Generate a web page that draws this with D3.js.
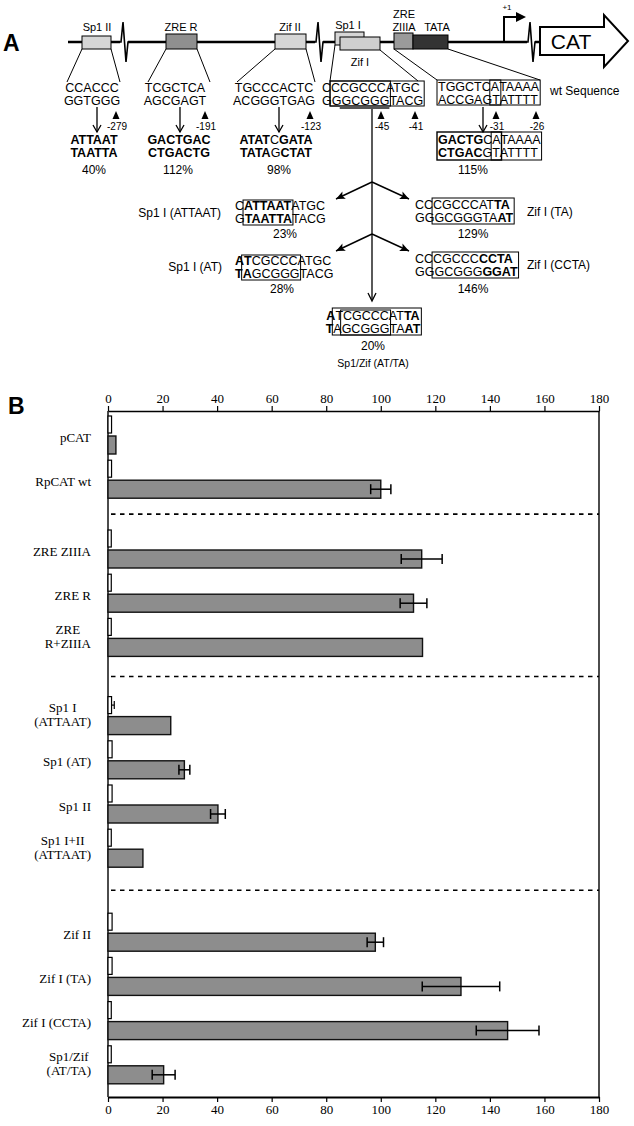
<!DOCTYPE html>
<html>
<head>
<meta charset="utf-8">
<script src="https://cdn.jsdelivr.net/npm/d3@7"></script>
<style>
  body { margin: 0; background: #fff; }
  svg { display: block; }
</style>
</head>
<body>
<svg id="fig" width="634" height="1126"></svg>
<script>
// ---------- Panel B data (CAT activity, % of RpCAT wt) ----------
const rowLabels = [
  ["pCAT"], ["RpCAT wt"],
  ["ZRE ZIIIA"], ["ZRE R"], ["ZRE", "R+ZIIIA"],
  ["Sp1 I", "(ATTAAT)"], ["Sp1 (AT)"], ["Sp1 II"], ["Sp1 I+II", "(ATTAAT)"],
  ["Zif II"], ["Zif I (TA)"], ["Zif I (CCTA)"], ["Sp1/Zif", "(AT/TA)"]
];
const rowGroup = [0, 0, 1, 1, 1, 2, 2, 2, 2, 3, 3, 3, 3];
const activity = [2.9, 100, 115, 112, 115.3, 23, 28, 40.3, 12.8, 98, 129.4, 146.5, 20.4];
const activityErr = [0, 3.7, 7.5, 4.9, 0, 0, 2, 2.7, 0, 3, 14.2, 11.5, 4.2];
const controlVals = [1.3, 1.3, 1.2, 1.2, 1.2, 1.3, 1.5, 1.5, 1.2, 1.5, 1.5, 1.2, 1.2];
const controlErr = [0, 0, 0, 0, 0, 1, 0, 0, 0, 0, 0, 0, 0];
const xTicks = [0, 20, 40, 60, 80, 100, 120, 140, 160, 180];

// ---------- Panel A sequences ([text, bold]) ----------
const wtSp1II = [[["CCACCC"]], [["GGTGGG"]]];
const wtZreR = [[["TCGCTCA"]], [["AGCGAGT"]]];
const wtZifII = [[["TGCCCACTC"]], [["ACGGGTGAG"]]];
const wtSp1I = [[["C"], ["CCGCCC"], ["ATGC"]], [["G"], ["GGCGGG"], ["TACG"]]];
const wtZiiia = [[["TGGCTC"], ["A"], ["TAAAA"]], [["ACCGAG"], ["T"], ["ATTTT"]]];
const mutSp1II = [[["ATTAAT", 1]], [["TAATTA", 1]]];
const mutZreR = [[["GACTGAC", 1]], [["CTGACTG", 1]]];
const mutZifII = [[["ATAT", 1], ["C"], ["GATA", 1]], [["TATA", 1], ["G"], ["CTAT", 1]]];
const mutZiiia = [[["GACTG", 1], ["C"], ["A"], ["TAAAA"]], [["CTGAC", 1], ["G"], ["T"], ["ATTTT"]]];
const mutAttaat = [[["C"], ["ATTAAT", 1], ["ATGC"]], [["G"], ["TAATTA", 1], ["TACG"]]];
const mutAt = [[["A", 1], ["T", 1], ["CGCCC"], ["ATGC"]], [["T", 1], ["A", 1], ["GCGGG"], ["TACG"]]];
const mutTa = [[["CC"], ["CGCCCAT"], ["TA", 1]], [["GG"], ["GCGGGTA"], ["AT", 1]]];
const mutCcta = [[["CC"], ["CGCCC"], ["CCTA", 1]], [["GG"], ["GCGGG"], ["GGAT", 1]]];
const mutSp1Zif = [[["A", 1], ["T"], ["CGCCC"], ["AT"], ["TA", 1]], [["T", 1], ["A"], ["GCGGG"], ["TA"], ["AT", 1]]];
const sitePercent = ["40%", "112%", "98%", "115%", "23%", "129%", "28%", "146%", "20%"];
const siteMarks = ["-279", "-191", "-123", "-45", "-41", "-31", "-26"];

const sans = "'Liberation Sans', Arial, Helvetica, sans-serif";
const serif = "'Liberation Serif', 'Times New Roman', serif";
const svg = d3.select("#fig");

// ================= Panel A =================
const A = svg.append("g");
A.append("text").attr("x", 3).attr("y", 51).attr("font-family", sans)
  .attr("font-size", 23).attr("font-weight", "bold").text("A");

// promoter line
A.append("line").attr("x1", 68).attr("x2", 540).attr("y1", 42).attr("y2", 42)
  .attr("stroke", "#000").attr("stroke-width", 2.5);

// breaks in the line
[124, 319, 531].forEach(bx => {
  A.append("rect").attr("x", bx - 4).attr("y", 39).attr("width", 8).attr("height", 6).attr("fill", "#fff");
  A.append("path")
    .attr("d", `M${bx - 6},42 L${bx - 3},42 L${bx - 1},22 L${bx + 2},62 L${bx + 4},42 L${bx + 6},42`)
    .attr("fill", "none").attr("stroke", "#000").attr("stroke-width", 1.6).attr("stroke-linejoin", "miter");
});

function box(g, x0, y0, x1, y1, fill, sw) {
  return g.append("rect").attr("x", x0).attr("y", y0).attr("width", x1 - x0).attr("height", y1 - y0)
    .attr("fill", fill || "none").attr("stroke", "#000").attr("stroke-width", sw || 1);
}
function label(g, x, y, txt, size, anchor, weight) {
  return g.append("text").attr("x", x).attr("y", y).attr("font-family", sans)
    .attr("font-size", size).attr("text-anchor", anchor || "middle")
    .attr("font-weight", weight || "normal").text(txt);
}

// promoter elements
box(A, 82, 36, 111, 49, "#d6d6d6");
box(A, 166, 34, 197, 49, "#8f8f8f");
box(A, 275, 34, 306, 49, "#d6d6d6");
box(A, 335, 32, 364, 45, "#d6d6d6");
box(A, 340, 37, 380, 50, "#cfcfcf");
box(A, 394, 33, 413, 49, "#9a9a9a");
box(A, 413, 35, 448, 49, "#333");
label(A, 97, 31, "Sp1 II", 11);
label(A, 181, 31, "ZRE R", 11);
label(A, 290, 31, "Zif II", 11);
label(A, 348, 29, "Sp1 I", 11);
label(A, 404, 18, "ZRE", 11);
label(A, 404, 31, "ZIIIA", 11);
label(A, 437, 31, "TATA", 11);
label(A, 360, 66, "Zif I", 11);

// +1 bent arrow and CAT reporter
A.append("path").attr("d", "M504,42 V17 H517").attr("fill", "none").attr("stroke", "#000").attr("stroke-width", 2);
A.append("path").attr("d", "M516,12 L526,17 L516,22 Z").attr("fill", "#000");
label(A, 507, 10, "+1", 8);
A.append("path").attr("d", "M540,27 L604,27 L604,15 L628,41 L604,67 L604,55 L540,55 Z")
  .attr("fill", "#fff").attr("stroke", "#000").attr("stroke-width", 2).attr("stroke-linejoin", "miter");
label(A, 571, 49, "CAT", 21);

// connector lines from elements to sequences
[[82, 49, 67, 82], [111, 49, 120, 82], [166, 49, 148, 82], [197, 49, 210, 82],
 [275, 49, 237, 82], [306, 49, 315, 82], [335, 45, 330, 81], [380, 50, 418, 81],
 [394, 49, 437, 80], [448, 49, 540, 80]]
  .forEach(l => A.append("line").attr("x1", l[0]).attr("y1", l[1]).attr("x2", l[2]).attr("y2", l[3])
    .attr("stroke", "#000").attr("stroke-width", 1));

// write a row of segments, returns extents of each segment
function seqRow(g, x, y, segs, size, anchor) {
  const nodes = segs.map(s => g.append("text").attr("y", y).attr("font-family", sans)
    .attr("font-size", size).attr("font-weight", s[1] ? "bold" : "normal").text(s[0]));
  const w = nodes.map(n => n.node().getComputedTextLength());
  const total = d3.sum(w);
  let cx = anchor === "middle" ? x - total / 2 : anchor === "end" ? x - total : x;
  return nodes.map((n, i) => { n.attr("x", cx); const e = [cx, cx + w[i]]; cx += w[i]; return e; });
}
function seqBlock(g, x, y, seq, anchor, size, gap) {
  const sz = size || 12.5;
  const r1 = seqRow(g, x, y, seq[0], sz, anchor);
  const r2 = seqRow(g, x, y + (gap || 12.5), seq[1], sz, anchor);
  return [r1, r2];
}
function segBox(g, ext, i0, i1, y0, y1, sw) {
  const x0 = Math.min(ext[0][i0][0], ext[1][i0][0]) - 1;
  const x1 = Math.max(ext[0][i1][1], ext[1][i1][1]) + 1;
  return box(g, x0, y0, x1, y1, "none", sw || 1);
}

// wild-type row
seqBlock(A, 92, 92, wtSp1II, "middle", 12.5, 13);
seqBlock(A, 175, 92, wtZreR, "middle", 12.5, 13);
seqBlock(A, 274, 92, wtZifII, "middle", 12.5, 13);
const eSp1I = seqBlock(A, 322, 92, wtSp1I, "start", 12.5, 13);
segBox(A, eSp1I, 1, 1, 81, 106);
segBox(A, eSp1I, 1, 2, 81, 106);
A.append("rect").attr("x", eSp1I[1][1][0] + 8).attr("y", 106).attr("width", eSp1I[1][1][1] - eSp1I[1][1][0] - 8)
  .attr("height", 3).attr("fill", "#555");
const eZw = seqBlock(A, 438, 91, wtZiiia, "start", 12.5, 13);
segBox(A, eZw, 0, 1, 80, 105);
segBox(A, eZw, 1, 2, 80, 105);
label(A, 550, 95, "wt Sequence", 12, "start");

// site markers
[116, 205, 310, 381, 415, 496, 536].forEach((tx, i) => {
  A.append("path").attr("d", `M${tx - 3.5},119 L${tx},111 L${tx + 3.5},119 Z`).attr("fill", "#000");
  label(A, tx + 1, 130, siteMarks[i], 10);
});

// open down arrows
function downArrow(g, ax, y0, y1) {
  g.append("line").attr("x1", ax).attr("x2", ax).attr("y1", y0).attr("y2", y1).attr("stroke", "#000").attr("stroke-width", 1.3);
  g.append("path").attr("d", `M${ax - 4},${y1 - 7} L${ax},${y1} L${ax + 4},${y1 - 7}`)
    .attr("fill", "none").attr("stroke", "#000").attr("stroke-width", 1.3);
}
[97, 180, 279, 483].forEach(ax => downArrow(A, ax, 107, 132));

// mutant row
seqBlock(A, 94, 143.5, mutSp1II, "middle", 12.5, 13.5);
seqBlock(A, 179, 143.5, mutZreR, "middle", 12.5, 13.5);
seqBlock(A, 276, 143.5, mutZifII, "middle", 12.5, 13.5);
const eZm = seqBlock(A, 438, 143.5, mutZiiia, "start", 12.5, 13.5);
segBox(A, eZm, 0, 2, 132, 160, 1.4);
segBox(A, eZm, 2, 3, 132, 160);
[[94, 0], [178, 1], [279, 2], [473, 3]].forEach(p => label(A, p[0], 174, sitePercent[p[1]], 12));

// branching arrows from Sp1 I / Zif I
A.append("line").attr("x1", 372).attr("x2", 372).attr("y1", 109).attr("y2", 300)
  .attr("stroke", "#000").attr("stroke-width", 1.3);
A.append("path").attr("d", "M368,293 L372,301 L376,293").attr("fill", "none").attr("stroke", "#000").attr("stroke-width", 1.3);
function branch(g, y) {
  [[336, y + 17], [409, y + 17]].forEach(t => {
    g.append("line").attr("x1", 372).attr("y1", y).attr("x2", t[0]).attr("y2", t[1])
      .attr("stroke", "#000").attr("stroke-width", 1.4);
    const ang = Math.atan2(t[1] - y, t[0] - 372);
    const L = 9, W = 4;
    const bx = t[0] - L * Math.cos(ang), by = t[1] - L * Math.sin(ang);
    const px = -Math.sin(ang) * W, py = Math.cos(ang) * W;
    g.append("path").attr("d", `M${t[0]},${t[1]} L${bx + px},${by + py} L${bx + 2 * Math.cos(ang)},${by + 2 * Math.sin(ang)} L${bx - px},${by - py} Z`)
      .attr("fill", "#000");
  });
}
branch(A, 182);
branch(A, 234);

const eAttaat = seqBlock(A, 235, 210, mutAttaat, "start");
segBox(A, eAttaat, 1, 1, 200, 225);
label(A, 221, 217, "Sp1 I (ATTAAT)", 12, "end");
label(A, 285, 238, sitePercent[4], 12);

const eTa = seqBlock(A, 415, 209, mutTa, "start");
segBox(A, eTa, 1, 2, 198, 224);
label(A, 527, 216, "Zif I (TA)", 12, "start");
label(A, 473, 238, sitePercent[5], 12);

const eAt = seqBlock(A, 235, 265, mutAt, "start");
segBox(A, eAt, 1, 2, 255, 280);
label(A, 222, 271, "Sp1 I (AT)", 12, "end");
label(A, 282, 293, sitePercent[6], 12);

const eCc = seqBlock(A, 415, 263, mutCcta, "start");
segBox(A, eCc, 1, 2, 252, 278);
label(A, 527, 269, "Zif I (CCTA)", 12, "start");
label(A, 473, 293, sitePercent[7], 12);

const eSz = seqBlock(A, 373, 320, mutSp1Zif, "middle");
segBox(A, eSz, 1, 4, 308, 335);
segBox(A, eSz, 2, 2, 310, 335);
label(A, 373, 350, sitePercent[8], 12);
label(A, 373, 367, "Sp1/Zif (AT/TA)", 10.5);

// ================= Panel B =================
const B = svg.append("g");
B.append("text").attr("x", 8).attr("y", 414).attr("font-family", sans)
  .attr("font-size", 23).attr("font-weight", "bold").text("B");

const x = d3.scaleLinear().domain([0, 180]).range([108, 599]);
const plotTop = 411, plotBottom = 1097;
const firstRow = 436, rowStep = 44.2, groupGaps = [0, 25.6, 59.6, 99.4];
const barH = 18, ctrlH = 17, ctrlGap = 3;

const rows = rowLabels.map((lab, i) => ({
  lab, g: rowGroup[i], v: activity[i], e: activityErr[i], c: controlVals[i], ce: controlErr[i],
  y: firstRow + i * rowStep + groupGaps[rowGroup[i]]
}));

// axes
const styleAxis = (g, sw) => {
  g.attr("font-family", serif).attr("font-size", 13);
  g.select(".domain").attr("stroke-width", sw);
  g.selectAll(".tick line").attr("stroke-width", 1.2);
  g.selectAll(".tick text").attr("fill", "#000");
};
B.append("g").attr("transform", `translate(0,${plotTop})`)
  .call(d3.axisTop(x).tickValues(xTicks).tickSize(5).tickSizeOuter(0))
  .call(g => styleAxis(g, 1.3));
B.append("g").attr("transform", `translate(0,${plotBottom})`)
  .call(d3.axisBottom(x).tickValues(xTicks).tickSize(5).tickSizeOuter(0))
  .call(g => styleAxis(g, 2.2));
[x(0), x(180)].forEach(fx => B.append("line").attr("x1", fx).attr("x2", fx)
  .attr("y1", plotTop).attr("y2", plotBottom).attr("stroke", "#000").attr("stroke-width", 1.4));

// dashed group separators
d3.range(1, 4).forEach(gi => {
  const prev = rows.filter(r => r.g === gi - 1).pop();
  const next = rows.find(r => r.g === gi);
  const yy = ((prev.y + barH) + (next.y - ctrlGap - ctrlH)) / 2;
  B.append("line").attr("x1", x(0) + 3).attr("x2", x(180)).attr("y1", yy).attr("y2", yy)
    .attr("stroke", "#000").attr("stroke-width", 1.6).attr("stroke-dasharray", "4.5,4.5");
});

// control (white) bars
B.selectAll("rect.ctrl").data(rows).join("rect").attr("class", "ctrl")
  .attr("x", x(0)).attr("y", d => d.y - ctrlGap - ctrlH)
  .attr("width", d => x(d.c) - x(0)).attr("height", ctrlH)
  .attr("fill", "#fff").attr("stroke", "#000").attr("stroke-width", 1.2);

// activity (grey) bars
B.selectAll("rect.act").data(rows).join("rect").attr("class", "act")
  .attr("x", x(0)).attr("y", d => d.y)
  .attr("width", d => x(d.v) - x(0)).attr("height", barH)
  .attr("fill", "#8d8d8d").attr("stroke", "#111").attr("stroke-width", 1.4);

// error bars
function errBar(v, e, cy) {
  const eg = B.append("g").attr("stroke", "#000").attr("stroke-width", 1.5);
  eg.append("line").attr("x1", x(v - e)).attr("x2", x(v + e)).attr("y1", cy).attr("y2", cy);
  [v - e, v + e].forEach(t => eg.append("line").attr("x1", x(t)).attr("x2", x(t)).attr("y1", cy - 5).attr("y2", cy + 5));
}
rows.filter(r => r.e > 0).forEach(r => errBar(r.v, r.e, r.y + barH / 2));
rows.filter(r => r.ce > 0).forEach(r => {
  const cy = r.y - ctrlGap - ctrlH / 2;
  const eg = B.append("g").attr("stroke", "#000").attr("stroke-width", 1.2);
  eg.append("line").attr("x1", x(r.c)).attr("x2", x(r.c + r.ce)).attr("y1", cy).attr("y2", cy);
  eg.append("line").attr("x1", x(r.c + r.ce)).attr("x2", x(r.c + r.ce)).attr("y1", cy - 4).attr("y2", cy + 4);
});

// row labels
const labelRight = 91;
rows.forEach(r => {
  if (r.lab.length === 1) {
    B.append("text").attr("x", labelRight).attr("y", r.y + 1).attr("dy", "0.35em")
      .attr("text-anchor", "end").attr("font-family", serif).attr("font-size", 13).text(r.lab[0]);
  } else {
    const ts = r.lab.map((s, k) => B.append("text").attr("y", r.y - 9 + k * 14).attr("dy", "0.35em")
      .attr("text-anchor", "middle").attr("font-family", serif).attr("font-size", 13).text(s));
    const w = d3.max(ts, t => t.node().getComputedTextLength());
    ts.forEach(t => t.attr("x", labelRight - w / 2));
  }
});
</script>
</body>
</html>
